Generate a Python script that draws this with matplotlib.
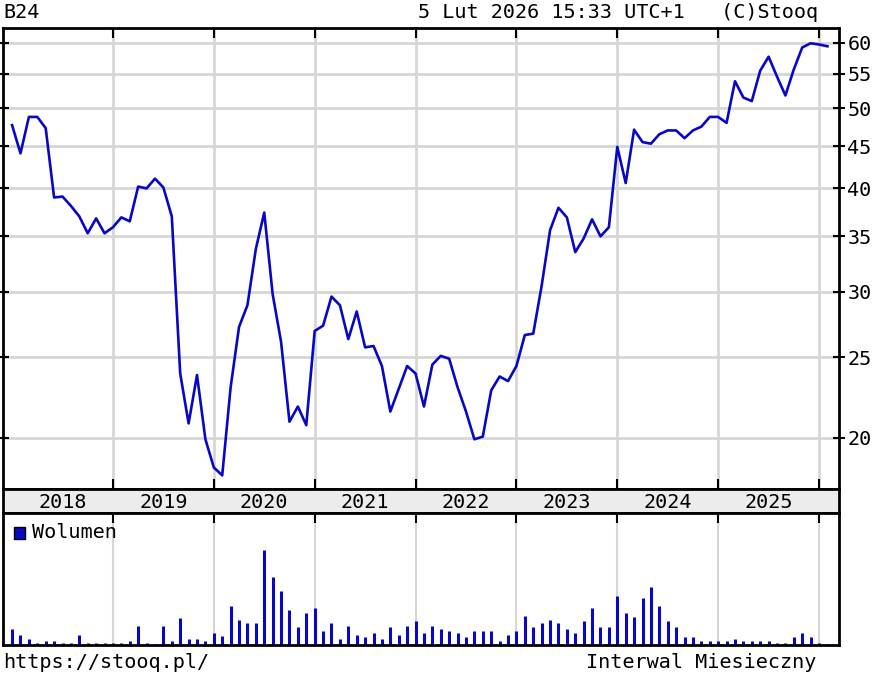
import matplotlib
matplotlib.use("Agg")
import matplotlib.pyplot as plt
from matplotlib.patches import Rectangle
from matplotlib.ticker import FixedLocator, NullLocator, FixedFormatter

# monthly closes, Jan 2018 .. Feb 2026
close = [47.7, 44.1, 48.8, 48.8, 47.3, 39.0, 39.1, 38.1, 37.0, 35.3, 36.8, 35.3,
         35.9, 36.9, 36.5, 40.2, 40.0, 41.1, 40.1, 37.0, 23.9, 20.8, 23.8, 19.9,
         18.4, 18.0, 23.0, 27.2, 28.9, 33.8, 37.4, 29.8, 26.1, 20.9, 21.8, 20.7,
         26.9, 27.3, 29.6, 28.9, 26.3, 28.4, 25.7, 25.8, 24.4, 21.5, 22.9, 24.4,
         23.9, 21.8, 24.5, 25.1, 24.9, 23.0, 21.5, 19.9, 20.05, 22.8, 23.7, 23.4,
         24.4, 26.6, 26.7, 30.5, 35.6, 37.9, 36.9, 33.5, 34.8, 36.7, 35.0, 35.9,
         44.9, 40.6, 47.1, 45.5, 45.3, 46.5, 47.0, 47.0, 46.0, 47.0, 47.5, 48.8,
         48.8, 48.0, 53.9, 51.5, 51.0, 55.5, 57.7, 54.6, 51.8, 55.7, 59.2, 59.9,
         59.7, 59.4]

volume = [48, 30, 18, 6, 13, 13, 6, 6, 30, 5, 5, 5,
          5, 5, 13, 58, 5, 2, 58, 13, 81, 18, 18, 13,
          35, 28, 116, 76, 65, 65, 285, 205, 163, 106, 53, 95,
          111, 41, 65, 18, 58, 30, 25, 35, 18, 53, 30, 58,
          71, 36, 58, 48, 43, 35, 25, 43, 43, 43, 13, 30,
          43, 88, 53, 66, 76, 66, 48, 36, 71, 111, 53, 53,
          146, 95, 83, 140, 175, 117, 71, 53, 25, 25, 13, 13,
          13, 13, 18, 13, 13, 13, 13, 6, 6, 25, 36, 25,
          6, 2]

years = [2018, 2019, 2020, 2021, 2022, 2023, 2024, 2025]
price_ticks = [20, 25, 30, 35, 40, 45, 50, 55, 60]

x = [2018 + i / 12 for i in range(len(close))]

W, H = 877, 679
fig = plt.figure(figsize=(W / 100, H / 100), dpi=100)
mono = "DejaVu Sans Mono"
fs = 14.5
blue = "#0808c4"
grid = "#d6d6d6"

def box(l, t, r, b):
    return [l / W, 1 - b / H, (r - l) / W, (b - t) / H]

x0, x1 = 2017.910, 2026.198
boundaries = [2019, 2020, 2021, 2022, 2023, 2024, 2025, 2026]

ax = fig.add_axes(box(3, 28, 839, 489))
ax.plot(x, close, color=blue, lw=1.9)
ax.set_yscale("log")
ax.set_xlim(x0, x1)
ax.set_ylim(17.33, 62.5)
ax.yaxis.set_major_locator(FixedLocator(price_ticks))
ax.yaxis.set_major_formatter(FixedFormatter([str(t) for t in price_ticks]))
ax.yaxis.set_minor_locator(NullLocator())
ax.set_xticks(boundaries)
ax.set_xticklabels([])
ax.grid(True, color=grid, lw=2)
ax.tick_params(axis="y", left=True, right=True, labelleft=False, labelright=True,
               direction="inout", length=8, width=1.5, labelsize=fs, pad=2)
ax.tick_params(axis="x", top=True, bottom=True, direction="in", length=7, width=1.5)
for lab in ax.get_yticklabels():
    lab.set_family(mono)
for s in ax.spines.values():
    s.set_linewidth(2)

band = fig.add_axes(box(3, 489, 839, 513))
band.set_facecolor("#ececec")
band.set_xlim(x0, x1)
band.set_ylim(0, 1)
band.set_xticks([])
band.set_yticks([])
for yr in years:
    band.text(yr + 0.5, 0.45, str(yr), ha="center", va="center",
              family=mono, fontsize=fs)
for s in band.spines.values():
    s.set_linewidth(2)

axv = fig.add_axes(box(3, 513, 839, 645))
axv.vlines(x, 0, volume, color=blue, lw=2.2)
axv.set_xlim(x0, x1)
axv.set_ylim(0, 396)
axv.set_yticks([])
axv.set_xticks(boundaries)
axv.set_xticklabels([])
axv.grid(True, axis="x", color=grid, lw=1.5)
axv.set_axisbelow(True)
axv.tick_params(axis="x", top=True, bottom=False, direction="in", length=7, width=1.5)
for s in axv.spines.values():
    s.set_linewidth(2)

fig.patches.append(Rectangle((14 / W, 1 - 539 / H), 11 / W, 12 / H,
                             transform=fig.transFigure, facecolor=blue,
                             edgecolor="black", lw=1))
fig.text(32 / W, 1 - 533 / H, "Wolumen", family=mono, fontsize=fs, va="center")

fig.text(3 / W, 1 - 12 / H, "B24", family=mono, fontsize=fs, va="center")
fig.text(818 / W, 1 - 12 / H, "5 Lut 2026 15:33 UTC+1   (C)Stooq",
         family=mono, fontsize=fs, va="center", ha="right")
fig.text(3 / W, 1 - 662 / H, "https://stooq.pl/", family=mono, fontsize=fs, va="center")
fig.text(816 / W, 1 - 662 / H, "Interwal Miesieczny", family=mono, fontsize=fs,
         va="center", ha="right")

fig.savefig("out.png", dpi=100)
